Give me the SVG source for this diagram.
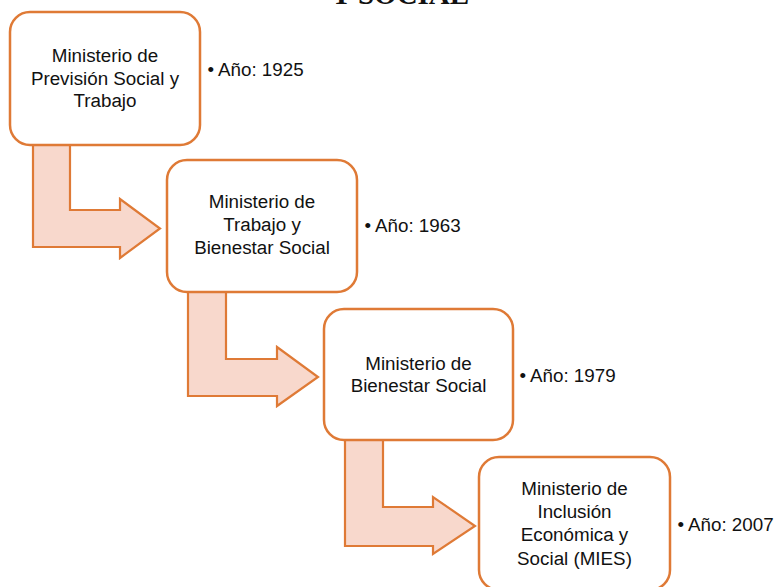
<svg xmlns="http://www.w3.org/2000/svg" width="779" height="587" viewBox="0 0 779 587">
<style>
.box{fill:#fff;stroke:#DF7A36;stroke-width:2.5}
.arr{fill:#F8D8CC;stroke:#DF7A36;stroke-width:2.2;stroke-linejoin:miter}
.t{font-family:"Liberation Sans",Arial,sans-serif;font-size:18.8px;fill:#111;text-anchor:middle}
.b{font-family:"Liberation Sans",Arial,sans-serif;font-size:18.8px;fill:#111}
.title{font-family:"Liberation Serif","Times New Roman",serif;font-size:29px;font-weight:bold;fill:#111;text-anchor:middle}
</style>
<rect width="779" height="587" fill="#fff"/>
<text class="title" x="400" y="4">Y SOCIAL</text>
<g id="connectors">
<path class="arr" d="M33,145 L70,145 L70,210 L120,210 L120,199 L160,228.5 L120,258 L120,247 L33,247 Z"/>
<path class="arr" d="M188,292 L226,292 L226,359 L277,359 L277,347 L318,377 L277,406 L277,396 L188,396 Z"/>
<path class="arr" d="M345,440 L383,440 L383,507 L433,507 L433,497 L475,526 L433,554 L433,546 L345,546 Z"/>
</g>
<g id="n1">
<rect class="box" x="10" y="12" width="190" height="133" rx="20"/>
<text class="t" x="105" y="62">Ministerio de</text>
<text class="t" x="105" y="84.5">Previsión Social y</text>
<text class="t" x="105" y="107">Trabajo</text>
</g>
<g id="y1"><text class="b" y="76"><tspan x="207.5">•</tspan><tspan x="218">Año: 1925</tspan></text></g>
<g id="n2">
<rect class="box" x="167" y="160" width="190" height="132" rx="20"/>
<text class="t" x="262" y="208">Ministerio de</text>
<text class="t" x="262" y="231">Trabajo y</text>
<text class="t" x="262" y="254">Bienestar Social</text>
</g>
<g id="y2"><text class="b" y="232"><tspan x="364.5">•</tspan><tspan x="375">Año: 1963</tspan></text></g>
<g id="n3">
<rect class="box" x="324" y="309" width="189" height="131" rx="20"/>
<text class="t" x="418.5" y="370">Ministerio de</text>
<text class="t" x="418.5" y="392">Bienestar Social</text>
</g>
<g id="y3"><text class="b" y="382"><tspan x="519.5">•</tspan><tspan x="530">Año: 1979</tspan></text></g>
<g id="n4">
<rect class="box" x="479" y="457" width="191" height="133" rx="20"/>
<text class="t" x="574.5" y="495">Ministerio de</text>
<text class="t" x="574.5" y="518">Inclusión</text>
<text class="t" x="574.5" y="541">Económica y</text>
<text class="t" x="574.5" y="565">Social (MIES)</text>
</g>
<g id="y4"><text class="b" y="531"><tspan x="677.5">•</tspan><tspan x="688">Año: 2007</tspan></text></g>
</svg>
